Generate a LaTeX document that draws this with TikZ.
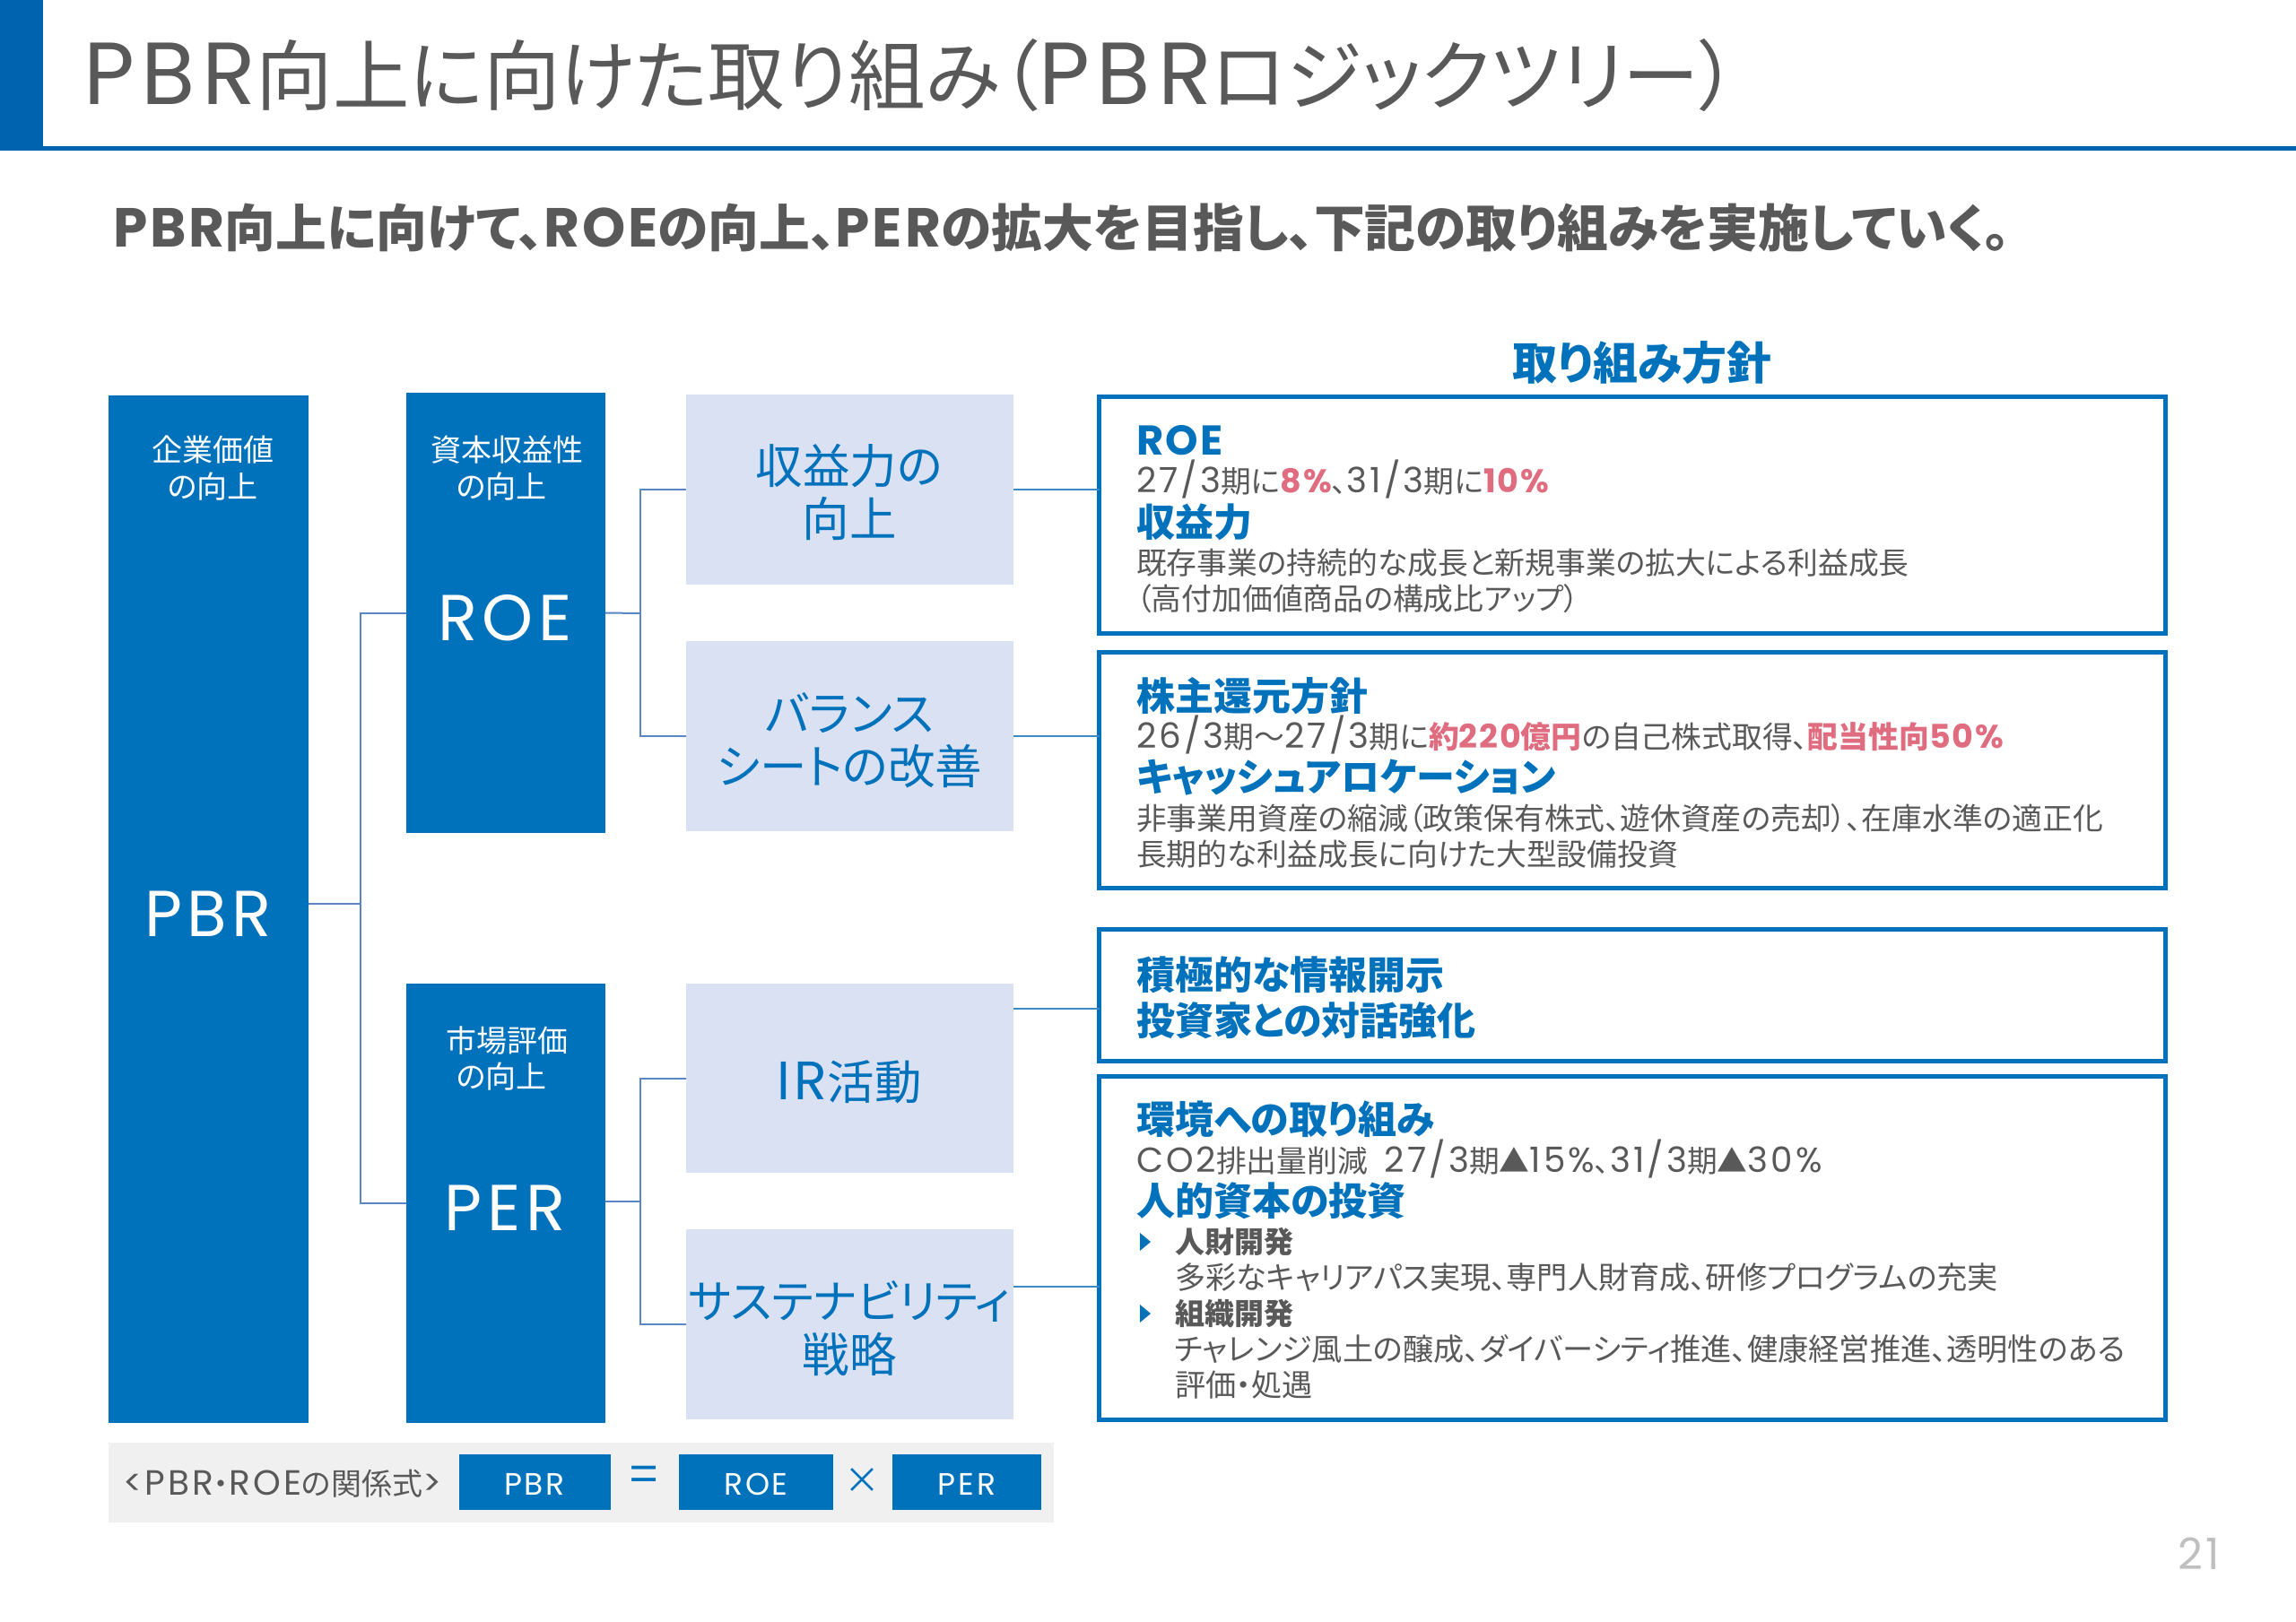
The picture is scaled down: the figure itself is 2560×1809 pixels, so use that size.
\documentclass[tikz,border=0pt]{standalone}
\usepackage{fontspec}
\setmainfont[RawFeature=+palt]{Noto Sans CJK JP}
\newfontfamily\latfam[Scale=1.15,LetterSpace=8]{Poppins}
\newfontfamily\latbfam[Scale=1.08,LetterSpace=5]{Poppins}
\newcommand{\lat}[1]{{\latfam #1}}
\newcommand{\latb}[1]{{\latbfam #1}}
\newcommand{\fsz}[1]{\fontsize{#1}{#1}\selectfont}
\definecolor{hblue}{HTML}{0063B0}
\definecolor{pblue}{HTML}{0071BB}
\definecolor{lblue}{HTML}{DAE1F3}
\definecolor{pgray}{HTML}{595959}
\definecolor{pred}{HTML}{E06C80}
\definecolor{panel}{HTML}{F0F0F0}
\definecolor{treec}{HTML}{5B86C4}
\definecolor{linkc}{HTML}{3B8BC4}
\newcommand{\rd}[1]{\textcolor{pred}{\bfseries #1}}
\tikzset{
  rectbase/.style={anchor=north west,inner sep=0pt,outer sep=0pt,rectangle},
  bluebox/.style={rectbase,fill=pblue},
  lightbox/.style={rectbase,fill=lblue},
  linebox/.style={rectbase,draw=pblue,line width=5pt,fill=white},
  tx/.style={anchor=base west,inner sep=0pt,outer sep=0pt},
  head/.style={tx,text=pblue,font=\bfseries\fsz{43}},
  body/.style={tx,text=pgray,font=\fsz{33.8}},
  sub/.style={tx,text=pgray,font=\fsz{34.2}},
  wlab/.style={anchor=base,inner sep=0pt,outer sep=0pt,text=white,font=\fsz{34},align=center},
  wbig/.style={anchor=base,inner sep=0pt,outer sep=0pt,text=white,font=\latfam\fsz{63}},
  blab/.style={anchor=base,inner sep=0pt,outer sep=0pt,text=pblue,font=\fsz{52.5}},
  tree/.style={draw=treec,line width=2pt},
  link/.style={draw=linkc,line width=2pt},
}
\begin{document}
\begin{tikzpicture}[x=1pt,y=-1pt]
\useasboundingbox (0,0) rectangle (2560,1809);
% header
\fill[hblue] (0,0) rectangle (48,168);
\fill[hblue] (0,163) rectangle (2560,168);
\node[tx,text=pgray,font=\fsz{85.5}] (title) at (93,117) {\lat{PBR}向上に向けた取り組み（\lat{PBR}ロジックツリー）};
\node[tx,text=pgray,font=\bfseries\fsz{56.8}] (subtitle) at (126,275) {\latb{PBR}向上に向けて、\latb{ROE}の向上、\latb{PER}の拡大を目指し、下記の取り組みを実施していく。};
\node[anchor=base,inner sep=0pt,text=pblue,font=\bfseries\fsz{50}] (policy) at (1831,423) {取り組み方針};
% blue columns
\node[bluebox,minimum width=223pt,minimum height=1146pt] (pbr) at (121,441) {};
\node[bluebox,minimum width=222pt,minimum height=491pt] (roe) at (453,438) {};
\node[bluebox,minimum width=222pt,minimum height=490pt] (per) at (453,1097) {};
\node[wlab] (pbrA) at (237,514) {企業価値};
\node[wlab] (pbrB) at (237,555) {の向上};
\node[wbig] (pbrT) at (232,1044) {PBR};
\node[wlab] (roeA) at (565,514) {資本収益性};
\node[wlab] (roeB) at (559,555) {の向上};
\node[wbig] (roeT) at (563,714) {ROE};
\node[wlab] (perA) at (565,1173) {市場評価};
\node[wlab] (perB) at (559,1213) {の向上};
\node[wbig] (perT) at (563,1372) {PER};
% light boxes
\node[lightbox,minimum width=365pt,minimum height=212pt] (l1) at (765,440) {};
\node[lightbox,minimum width=365pt,minimum height=212pt] (l2) at (765,715) {};
\node[lightbox,minimum width=365pt,minimum height=211pt] (l3) at (765,1097) {};
\node[lightbox,minimum width=365pt,minimum height=212pt] (l4) at (765,1371) {};
\node[blab] (l1a) at (947,539) {収益力の};
\node[blab] (l1b) at (947,598) {向上};
\node[blab] (l2a) at (947,815) {バランス};
\node[blab] (l2b) at (947,874) {シートの改善};
\node[blab] (l3a) at (947,1226) {\lat{IR}活動};
\node[blab,font=\fsz{51}] (l4a) at (947,1470) {サステナビリティ};
\node[blab] (l4b) at (947,1530) {戦略};
% outlined boxes
\node[linebox,minimum width=1189pt,minimum height=263.5pt] (r1) at (1225.5,442.5) {};
\node[linebox,minimum width=1189pt,minimum height=263pt] (r2) at (1225.5,727) {};
\node[linebox,minimum width=1189pt,minimum height=146.5pt] (r3) at (1225.5,1036.5) {};
\node[linebox,minimum width=1189pt,minimum height=383pt] (r4) at (1225.5,1200) {};
% connectors
\coordinate (jA) at (402,1008);
\draw[tree] (jA -| pbr.east) -- (jA);
\draw[tree] (roe.west) -| (jA);
\draw[tree] (per.west) -| (jA);
\coordinate (jB) at (714,684);
\draw[tree] (roe.east) -- (jB);
\draw[tree] (l1.west) -| (jB);
\draw[tree] (l2.west) -| (jB);
\coordinate (jC) at (714,1340);
\draw[tree] (jC -| per.east) -- (jC);
\draw[tree] (l3.west) -| (jC);
\draw[tree] (l4.west) -| (jC);
\coordinate (o3) at (1130,1125);
\coordinate (o4) at (1130,1435);
\draw[link] (l1.east) -- (l1.east -| r1.west);
\draw[link] (l2.east) -- (l2.east -| r2.west);
\draw[link] (o3) -- (o3 -| r3.west);
\draw[link] (o4) -- (o4 -| r4.west);
% box 1
\node[head] (t1) at (1267,507) {\latb{ROE}};
\node[body] (t2) at (1267,549) {\lat{27/3}期に\rd{\latb{8\%}}、\lat{31/3}期に\rd{\latb{10\%}}};
\node[head] (t3) at (1267,598) {収益力};
\node[body] (t4) at (1267,640) {既存事業の持続的な成長と新規事業の拡大による利益成長};
\node[body] (t5) at (1267,680) {（高付加価値商品の構成比アップ）};
% box 2
\node[head] (t6) at (1267,792) {株主還元方針};
\node[body] (t7) at (1267,834) {\lat{26/3}期～\lat{27/3}期に\rd{約\latb{220}億円}の自己株式取得、\rd{配当性向\latb{50\%}}};
\node[head] (t8) at (1267,882) {キャッシュアロケーション};
\node[body] (t9) at (1267,925) {非事業用資産の縮減（政策保有株式、遊休資産の売却）、在庫水準の適正化};
\node[body] (t10) at (1267,965) {長期的な利益成長に向けた大型設備投資};
% box 3
\node[head] (t11) at (1267,1103) {積極的な情報開示};
\node[head] (t12) at (1267,1154) {投資家との対話強化};
% box 4
\node[head] (t13) at (1267,1264) {環境への取り組み};
\node[body] (t14) at (1267,1307) {\lat{CO2}排出量削減\hspace{0.55em}\lat{27/3}期▲\lat{15\%}、\lat{31/3}期▲\lat{30\%}};
\node[head] (t15) at (1267,1355) {人的資本の投資};
\node[tx,text=pgray,font=\bfseries\fsz{33}] (t16) at (1310,1397) {人財開発};
\node[sub] (t17) at (1310,1437) {多彩なキャリアパス実現、専門人財育成、研修プログラムの充実};
\node[tx,text=pgray,font=\bfseries\fsz{33}] (t18) at (1310,1477) {組織開発};
\node[sub] (t19) at (1310,1517) {チャレンジ風土の醸成、ダイバーシティ推進、健康経営推進、透明性のある};
\node[sub] (t20) at (1310,1557) {評価・処遇};
\fill[pblue] (1271,1375) -- (1283,1385) -- (1271,1395) -- cycle;
\fill[pblue] (1271,1455) -- (1283,1465) -- (1271,1475) -- cycle;
% formula
\node[rectbase,fill=panel,minimum width=1054pt,minimum height=89pt] (fp) at (121,1609) {};
\node[bluebox,minimum width=169pt,minimum height=62pt] (f1) at (512,1622) {};
\node[bluebox,minimum width=172pt,minimum height=62pt] (f2) at (757,1622) {};
\node[bluebox,minimum width=166pt,minimum height=62pt] (f3) at (995,1622) {};
\node[tx,text=pgray,font=\fsz{34}] (flab) at (137,1667) {\lat{<PBR}・\lat{ROE}の関係式\lat{>}};
\node[wlab,font=\latfam\fsz{30}] (f1t) at (596,1667) {PBR};
\node[wlab,font=\latfam\fsz{30}] (f2t) at (843,1667) {ROE};
\node[wlab,font=\latfam\fsz{30}] (f3t) at (1078,1667) {PER};
\node[anchor=center,inner sep=0pt,text=pblue,font=\fsz{56}] (feq) at (718,1650) {=};
\node[anchor=center,inner sep=0pt,text=pblue,font=\fsz{40}] (fx) at (961,1652) {×};
\node[tx,text=black!25,font=\latfam\fsz{42}] (pg) at (2428,1750) {21};
\end{tikzpicture}
\end{document}
